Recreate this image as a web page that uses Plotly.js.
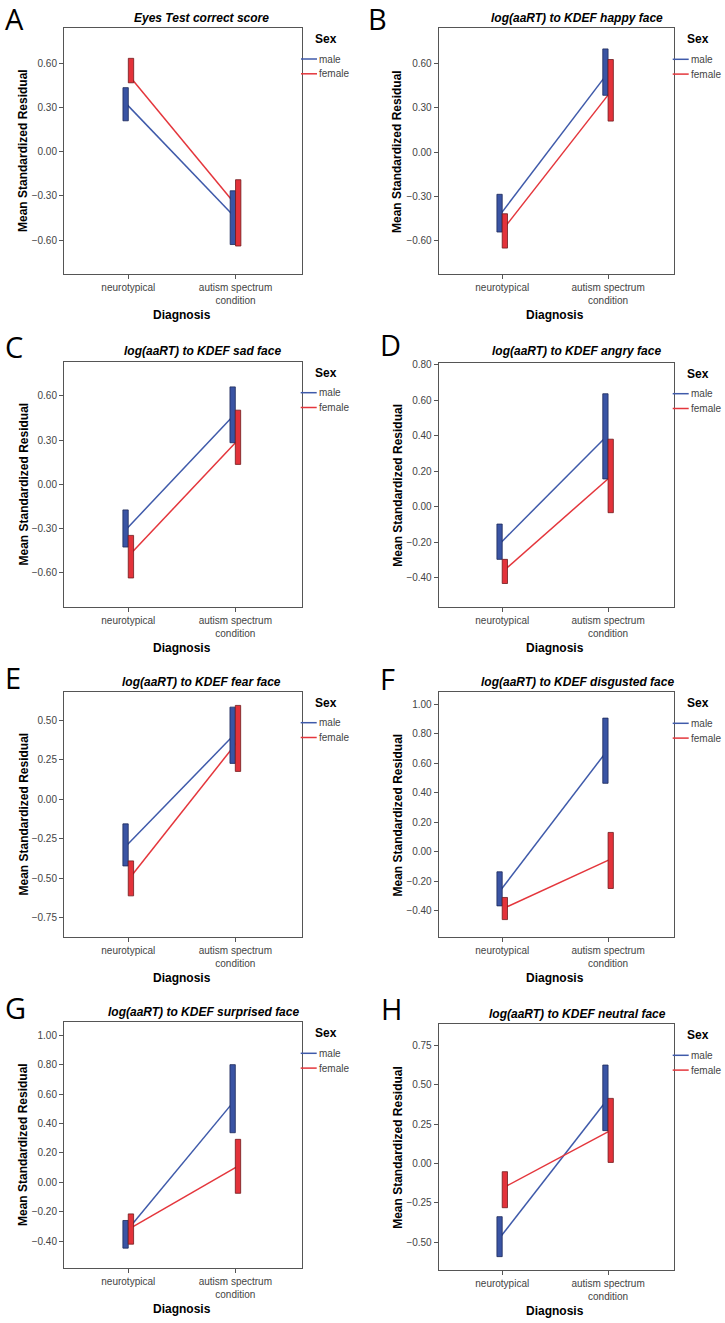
<!DOCTYPE html>
<html>
<head>
<meta charset="utf-8">
<script src="https://cdn.plot.ly/plotly-3.0.1.min.js"></script>
<style>html,body{margin:0;padding:0;background:#fff;}#chart{width:725px;height:1323px;}</style>
</head>
<body>
<div id="chart"></div>
<script>
// ---------- data ----------
const categories = ['neurotypical', 'autism spectrum<br>condition'];
const seriesNames = ['male', 'female'];
const panelLetters = ['A', 'B', 'C', 'D', 'E', 'F', 'G', 'H'];
const panelTitles = [
  'Eyes Test correct score',
  'log(aaRT) to KDEF happy face',
  'log(aaRT) to KDEF sad face',
  'log(aaRT) to KDEF angry face',
  'log(aaRT) to KDEF fear face',
  'log(aaRT) to KDEF disgusted face',
  'log(aaRT) to KDEF surprised face',
  'log(aaRT) to KDEF neutral face'
];
const xAxisTitle = 'Diagnosis';
const yAxisTitle = 'Mean Standardized Residual';
const legendTitle = 'Sex';

// per panel: [neurotypical, autism spectrum condition]
const maleMean = [[0.33, -0.43], [-0.43, 0.515], [-0.31, 0.46], [-0.21, 0.39], [-0.30, 0.40], [-0.27, 0.67], [-0.34, 0.54], [-0.475, 0.39]];
const maleLow  = [[0.21, -0.63], [-0.543, 0.385], [-0.426, 0.282], [-0.297, 0.156], [-0.423, 0.228], [-0.367, 0.464], [-0.448, 0.337], [-0.593, 0.208]];
const maleHigh = [[0.435, -0.265], [-0.287, 0.70], [-0.174, 0.661], [-0.098, 0.636], [-0.156, 0.585], [-0.136, 0.906], [-0.26, 0.80], [-0.339, 0.625]];
const femaleMean = [[0.50, -0.38], [-0.51, 0.41], [-0.47, 0.30], [-0.355, 0.17], [-0.49, 0.37], [-0.38, -0.05], [-0.31, 0.11], [-0.15, 0.21]];
const femaleLow  = [[0.468, -0.64], [-0.652, 0.21], [-0.636, 0.135], [-0.433, -0.034], [-0.613, 0.177], [-0.46, -0.249], [-0.421, -0.075], [-0.282, 0.006]];
const femaleHigh = [[0.634, -0.19], [-0.419, 0.628], [-0.347, 0.503], [-0.297, 0.38], [-0.391, 0.596], [-0.31, 0.131], [-0.215, 0.292], [-0.053, 0.413]];

// ---------- layout geometry (pixels) ----------
const W = 725, H = 1323;
const panelBoxes = [ // [left, right, top, bottom]
  [64, 302, 28, 274], [438.7, 673.7, 28.3, 274.3],
  [64, 301.7, 361.7, 607.3], [438.7, 673.7, 362.7, 607.3],
  [64, 301.7, 691.7, 937.3], [438.7, 673.7, 692.3, 937.3],
  [64, 301.7, 1022.3, 1267.7], [438.7, 673.7, 1024.3, 1270]
];
const yRanges = [[-0.83, 0.84], [-0.83, 0.84], [-0.835, 0.832], [-0.567, 0.811], [-0.876, 0.683], [-0.58, 1.081], [-0.581, 1.088], [-0.678, 0.884]];
const yDticks = [0.3, 0.3, 0.3, 0.2, 0.25, 0.2, 0.2, 0.25];
const titleCenters = [[202, 17.7], [577, 17.7], [202.5, 350.7], [576, 351], [202, 681.7], [577, 681.7], [203, 1011.7], [577, 1014]];
const letterPos = [[3, 18], [366, 18], [3, 347], [378, 344], [3, 677], [378, 678], [3, 1007], [379, 1008]];

const FONT = '"Liberation Sans", Arial, sans-serif';
const colors = {
  male:   {line: '#3f5aaa', fill: '#3a54a4', edge: '#1c2859'},
  female: {line: '#e4363c', fill: '#e3323a', edge: '#6e1a1d'}
};
const offsets = [-0.025, 0.025];
const halfW = 0.025;

const px = p => p / W;
const py = p => 1 - p / H;

const traces = [];
const shapes = [];
const annotations = [];
const layout = {
  width: W, height: H,
  margin: {l: 0, r: 0, t: 0, b: 0},
  paper_bgcolor: '#fff', plot_bgcolor: '#fff',
  showlegend: false,
  font: {family: FONT, color: '#000'}
};

for (let p = 0; p < 8; p++) {
  const n = p === 0 ? '' : String(p + 1);
  const xa = 'x' + n, ya = 'y' + n;
  const [L, R, T, B] = panelBoxes[p];
  layout['xaxis' + n] = {
    domain: [px(L), px(R)], anchor: ya, range: [-0.6, 1.62],
    tickmode: 'array', tickvals: [0, 1], ticktext: categories,
    ticks: 'outside', ticklen: 4, tickcolor: '#555', tickwidth: 1,
    showline: true, mirror: true, linecolor: '#555', linewidth: 1,
    showgrid: false, zeroline: false,
    tickfont: {family: FONT, size: 10, color: '#444'}
  };
  layout['yaxis' + n] = {
    domain: [py(B), py(T)], anchor: xa, range: yRanges[p],
    tick0: 0, dtick: yDticks[p], tickformat: '.2f',
    ticks: 'outside', ticklen: 4, tickcolor: '#555', tickwidth: 1,
    showline: true, mirror: true, linecolor: '#555', linewidth: 1,
    showgrid: false, zeroline: false,
    tickfont: {family: FONT, size: 10, color: '#444'}
  };

  const stats = [
    {name: 'male', mean: maleMean[p], lo: maleLow[p], hi: maleHigh[p], c: colors.male},
    {name: 'female', mean: femaleMean[p], lo: femaleLow[p], hi: femaleHigh[p], c: colors.female}
  ];
  // connecting lines (drawn first so the boxes sit on top)
  stats.forEach((s, si) => {
    traces.push({
      type: 'scatter', mode: 'lines', xaxis: xa, yaxis: ya,
      x: [0, 1].map(i => i + offsets[si]), y: s.mean,
      line: {color: s.c.line, width: 1.5}, name: s.name, hoverinfo: 'skip'
    });
  });
  // interval boxes
  stats.forEach((s, si) => {
    for (let i = 0; i < 2; i++) {
      const c = i + offsets[si];
      traces.push({
        type: 'scatter', mode: 'lines', xaxis: xa, yaxis: ya,
        x: [c - halfW, c + halfW, c + halfW, c - halfW, c - halfW],
        y: [s.lo[i], s.lo[i], s.hi[i], s.hi[i], s.lo[i]],
        fill: 'toself', fillcolor: s.c.fill,
        line: {color: s.c.edge, width: 0.8}, name: s.name, hoverinfo: 'skip'
      });
    }
  });

  // panel title
  annotations.push({
    xref: 'paper', yref: 'paper', x: px(titleCenters[p][0]), y: py(titleCenters[p][1]),
    xanchor: 'center', yanchor: 'middle', showarrow: false,
    text: panelTitles[p],
    font: {family: FONT, size: 12, weight: 'bold', style: 'italic', color: '#000'}
  });
  // panel letter
  annotations.push({
    xref: 'paper', yref: 'paper', x: px(letterPos[p][0]), y: py(letterPos[p][1]),
    xanchor: 'left', yanchor: 'middle', showarrow: false,
    text: panelLetters[p],
    font: {family: '"Open Sans", sans-serif', size: 29, color: '#000'}
  });
  // axis titles
  annotations.push({
    xref: 'paper', yref: 'paper', x: px((L + R) / 2 - 1), y: py(B + 41),
    xanchor: 'center', yanchor: 'middle', showarrow: false,
    text: xAxisTitle, font: {family: FONT, size: 12, weight: 'bold', color: '#000'}
  });
  annotations.push({
    xref: 'paper', yref: 'paper', x: px(L - 41), y: py((T + B) / 2),
    xanchor: 'center', yanchor: 'middle', showarrow: false, textangle: -90,
    text: yAxisTitle, font: {family: FONT, size: 12, weight: 'bold', color: '#000'}
  });
  // legend
  annotations.push({
    xref: 'paper', yref: 'paper', x: px(R + 11), y: py(T + 11),
    xanchor: 'left', yanchor: 'middle', showarrow: false,
    text: legendTitle, font: {family: FONT, size: 12, weight: 'bold', color: '#000'}
  });
  seriesNames.forEach((nm, si) => {
    const yy = T + 31 + si * 14.8;
    const col = si === 0 ? colors.male.line : colors.female.line;
    shapes.push({
      type: 'line', xref: 'paper', yref: 'paper',
      x0: px(R - 1), x1: px(R + 15), y0: py(yy), y1: py(yy),
      line: {color: col, width: 1.5}
    });
    annotations.push({
      xref: 'paper', yref: 'paper', x: px(R + 15), y: py(yy),
      xanchor: 'left', yanchor: 'middle', showarrow: false,
      text: nm, font: {family: FONT, size: 10, color: '#444'}
    });
  });
}
layout.shapes = shapes;
layout.annotations = annotations;

Plotly.newPlot('chart', traces, layout, {displayModeBar: false, staticPlot: true});
</script>
</body>
</html>
